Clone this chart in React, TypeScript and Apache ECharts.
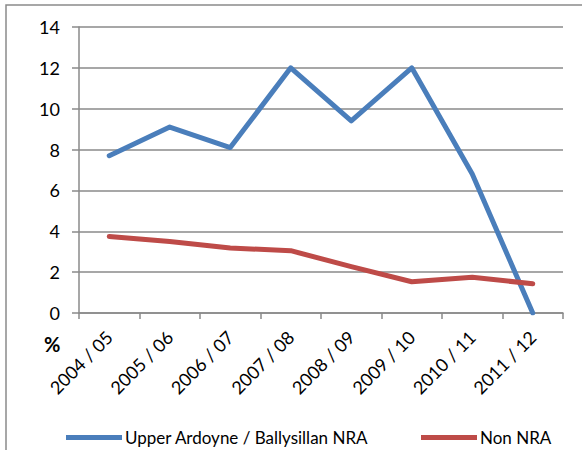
import React, { useEffect, useRef } from "react";
import * as echarts from "echarts";

const categories = ["2004 / 05", "2005 / 06", "2006 / 07", "2007 / 08", "2008 / 09", "2009 / 10", "2010 / 11", "2011 / 12"];
const nraValues = [7.7, 9.1, 8.1, 12.0, 9.4, 12.0, 6.8, 0];
const nonNraValues = [3.75, 3.5, 3.18, 3.05, 2.27, 1.53, 1.75, 1.43];
const seriesNames = ["Upper Ardoyne / Ballysillan NRA", "Non NRA"];

const FONT = "Lato";

export default function App() {
  const ref = useRef<HTMLDivElement>(null);
  useEffect(() => {
    if (!ref.current) return;
    const chart = echarts.init(ref.current, null, { renderer: "svg" });
    chart.setOption({
      animation: false,
      backgroundColor: "#ffffff",
      textStyle: { fontFamily: FONT },
      grid: { left: 79, top: 27, right: 19, bottom: 137, containLabel: false },
      graphic: [
        {
          type: "rect",
          shape: { x: 6, y: 5, width: 620, height: 500 },
          style: { fill: "none", stroke: "#8a8a8a", lineWidth: 1.5 },
          silent: true,
        },
        {
          type: "text",
          left: 44,
          top: 334,
          style: { text: "%", font: `bold 20px ${FONT}`, fill: "#000" },
        },
      ],
      legend: [
        {
          data: [seriesNames[0]],
          left: 61,
          top: 424,
          itemWidth: 56,
          itemHeight: 5,
          itemGap: 3,
          icon: "rect",
          textStyle: { fontSize: 17, color: "#000", fontFamily: FONT, padding: [0, 0, 0, -2] },
        },
        {
          data: [seriesNames[1]],
          left: 416,
          top: 424,
          itemWidth: 56,
          itemHeight: 5,
          icon: "rect",
          textStyle: { fontSize: 17, color: "#000", fontFamily: FONT, padding: [0, 0, 0, -2] },
        },
      ],
      xAxis: {
        type: "category",
        data: categories,
        boundaryGap: true,
        axisLine: { show: true, lineStyle: { color: "#8a8a8a", width: 1.5 } },
        axisTick: { show: true, length: 6, lineStyle: { color: "#8a8a8a", width: 1.5 } },
        axisLabel: {
          rotate: 45,
          fontSize: 18,
          color: "#000",
          margin: 21,
          fontFamily: FONT,
          interval: 0,
        },
      },
      yAxis: {
        type: "value",
        min: 0,
        max: 14,
        interval: 2,
        axisLine: { show: true, lineStyle: { color: "#8a8a8a", width: 1.5 } },
        axisTick: { show: true, length: 7, lineStyle: { color: "#8a8a8a", width: 1.5 } },
        axisLabel: { fontSize: 18, color: "#000", margin: 19, fontFamily: FONT },
        splitLine: { show: true, lineStyle: { color: "#8a8a8a", width: 1.5 } },
      },
      series: [
        {
          name: seriesNames[0],
          type: "line",
          data: nraValues,
          symbol: "none",
          color: "#4a7ebb",
          lineStyle: { width: 5, color: "#4a7ebb", cap: "round", join: "round" },
        },
        {
          name: seriesNames[1],
          type: "line",
          data: nonNraValues,
          symbol: "none",
          color: "#be4b48",
          lineStyle: { width: 5, color: "#be4b48", cap: "round", join: "round" },
        },
      ],
    });
    return () => chart.dispose();
  }, []);
  return (
    <div
      ref={ref}
      style={{ position: "absolute", left: 0, top: 0, width: 582, height: 450 }}
    />
  );
}
